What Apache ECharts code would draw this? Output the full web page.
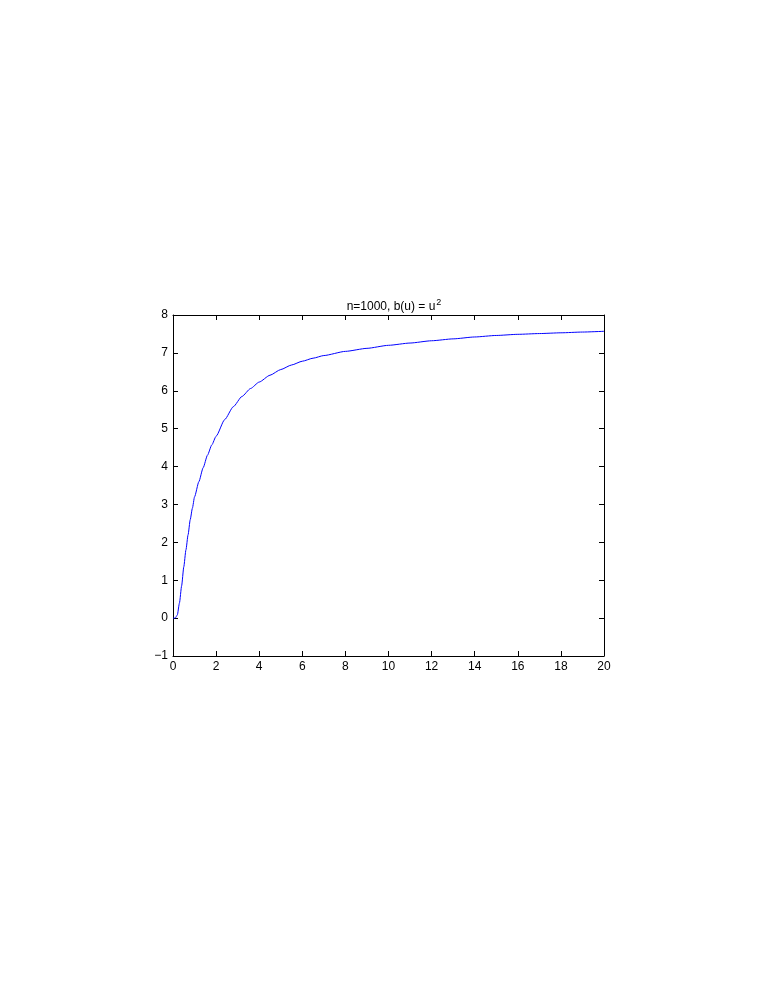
<!DOCTYPE html>
<html>
<head>
<meta charset="utf-8">
<script src="https://cdn.jsdelivr.net/npm/echarts@6/dist/echarts.min.js"></script>
<style>
    html, body { margin: 0; padding: 0; background: #fff; }
    #chart { width: 761px; height: 985px; }
</style>
</head>
<body>
<div id="chart"></div>
<script>
    // values
    const uValues = [0, 0.1, 0.2, 0.3, 0.4, 0.5, 0.6, 0.7, 0.8, 0.9, 1.0, 1.2, 1.4, 1.6, 1.8, 2.0, 2.4, 2.8, 3.2, 3.6, 4.0, 4.5, 5.0, 5.5, 6.0, 6.5, 7.0, 8, 9, 10, 11, 12, 13, 14, 15, 16, 17, 18, 19, 20];
    const bValues = [0, 0, 0.08, 0.4, 0.85, 1.35, 1.8, 2.2, 2.6, 2.9, 3.2, 3.6, 3.97, 4.3, 4.57, 4.8, 5.24, 5.58, 5.85, 6.06, 6.23, 6.41, 6.56, 6.68, 6.78, 6.86, 6.93, 7.04, 7.12, 7.2, 7.26, 7.32, 7.37, 7.42, 7.46, 7.49, 7.51, 7.53, 7.55, 7.57];
    const xTicks = [0, 2, 4, 6, 8, 10, 12, 14, 16, 18, 20];
    const yTicks = [-1, 0, 1, 2, 3, 4, 5, 6, 7, 8];

    const chart = echarts.init(document.getElementById('chart'));
    const font = 'Liberation Sans, Arial, Helvetica, sans-serif';

    const lineData = uValues.map((u, i) => [u, bValues[i]]);

    const axisCommon = {
        axisLine: { show: true, onZero: false, lineStyle: { color: '#000', width: 1 } },
        axisTick: { show: true, inside: true, length: 5, lineStyle: { color: '#000' } },
        splitLine: { show: false },
        axisLabel: { color: '#000', fontSize: 12, fontFamily: font }
    };

    chart.setOption({
        animation: false,
        title: {
            text: '{a|n=1000, b(u) = u}{s|2}',
            left: 389,
            top: 293,
            textAlign: 'center',
            textStyle: {
                fontWeight: 'normal',
                rich: {
                    a: { fontSize: 12, fontWeight: 'normal', fontFamily: font, color: '#000', verticalAlign: 'bottom' },
                    s: { fontSize: 9, fontWeight: 'normal', fontFamily: font, color: '#000', verticalAlign: 'top', padding: [0, 0, 6, 1] }
                }
            }
        },
        grid: { left: 173, right: 157, top: 315, bottom: 329 },
        xAxis: [
            Object.assign({}, axisCommon, {
                type: 'value', min: xTicks[0], max: xTicks[xTicks.length - 1], interval: 2, position: 'bottom',
                axisLabel: Object.assign({}, axisCommon.axisLabel, { margin: 5 })
            }),
            Object.assign({}, axisCommon, {
                type: 'value', min: xTicks[0], max: xTicks[xTicks.length - 1], interval: 2, position: 'top',
                axisLabel: { show: false }
            })
        ],
        yAxis: [
            Object.assign({}, axisCommon, {
                type: 'value', min: yTicks[0], max: yTicks[yTicks.length - 1], interval: 1, position: 'left',
                axisLabel: Object.assign({}, axisCommon.axisLabel, {
                    margin: 5,
                    formatter: v => (v < 0 ? '\u2212' + Math.abs(v) : String(v))
                })
            }),
            Object.assign({}, axisCommon, {
                type: 'value', min: yTicks[0], max: yTicks[yTicks.length - 1], interval: 1, position: 'right',
                axisLabel: { show: false }
            })
        ],
        series: [
            {
                type: 'line',
                data: lineData,
                showSymbol: false,
                smooth: 0.2,
                smoothMonotone: 'x',
                lineStyle: { color: '#0000ff', width: 1 },
                itemStyle: { color: '#0000ff' }
            }
        ]
    });
</script>
</body>
</html>
